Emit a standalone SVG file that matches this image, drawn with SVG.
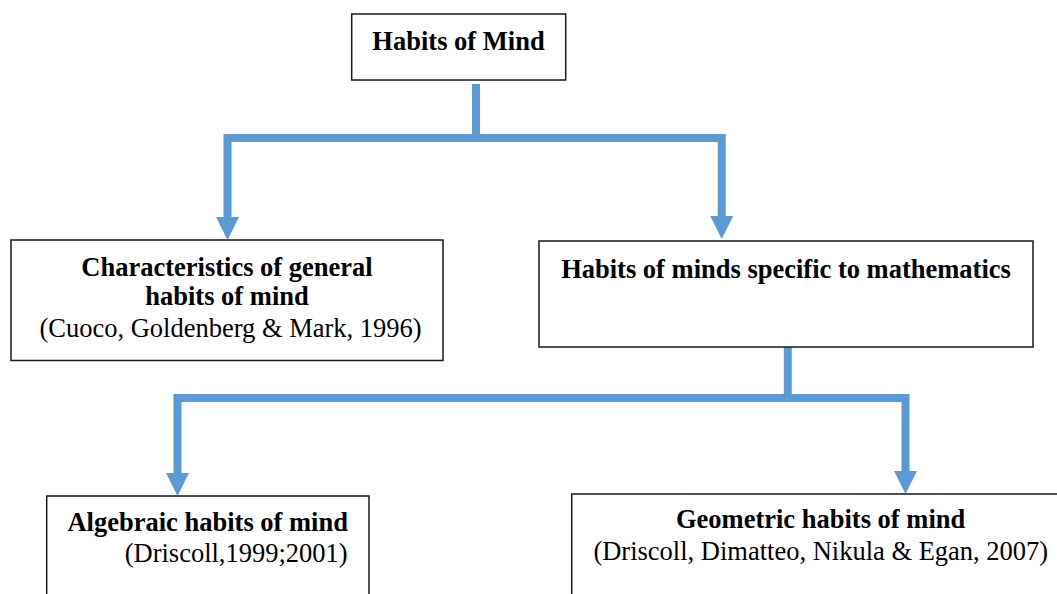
<svg xmlns="http://www.w3.org/2000/svg" width="1057" height="594" viewBox="0 0 1057 594">
  <style>
    .box { fill: #ffffff; stroke: #1a1a1a; stroke-width: 1.5; }
    .t { font-family: 'Liberation Serif', Tinos, 'Times New Roman', Times, 'DejaVu Serif', 'Noto Serif', serif; font-size: 26.5px; fill: #000000; text-anchor: middle; }
    .b { font-weight: bold; }
    .conn { fill: none; stroke: #5B9BD5; stroke-width: 8; stroke-linejoin: miter; stroke-linecap: butt; }
  </style>
  <defs>
    <marker id="arrow" markerUnits="userSpaceOnUse" viewBox="0 0 24 24" markerWidth="24" markerHeight="24" refX="0.5" refY="12" orient="auto">
      <path d="M0,0.3 L23.5,12 L0,23.7 Z" fill="#5B9BD5"/>
    </marker>
  </defs>
  <rect width="1057" height="594" fill="#ffffff"/>

  <g id="connectors">
    <path class="conn" d="M476,84 V138"/>
    <path class="conn" d="M476,138 H227.5 V217" marker-end="url(#arrow)"/>
    <path class="conn" d="M476,138 H721.7 V216" marker-end="url(#arrow)"/>
    <path class="conn" d="M787.8,347 V398"/>
    <path class="conn" d="M787.8,398 H177.5 V473" marker-end="url(#arrow)"/>
    <path class="conn" d="M787.8,398 H905.5 V471" marker-end="url(#arrow)"/>
  </g>

  <g id="node-habits-of-mind">
    <rect class="box" x="351.7" y="14" width="214" height="66"/>
    <text class="t b" x="458.5" y="50" font-family="Liberation Serif, serif">Habits of Mind</text>
  </g>

  <g id="node-general">
    <rect class="box" x="11" y="240" width="432" height="120.5"/>
    <text class="t b" x="227" y="276">Characteristics of general</text>
    <text class="t b" x="227" y="305">habits of mind</text>
    <text class="t" x="230.5" y="336.5">(Cuoco, Goldenberg &amp; Mark, 1996)</text>
  </g>

  <g id="node-math">
    <rect class="box" x="539" y="241" width="494" height="106"/>
    <text class="t b" x="786" y="278">Habits of minds specific to mathematics</text>
  </g>

  <g id="node-algebraic">
    <rect class="box" x="46.7" y="496" width="322.3" height="110"/>
    <text class="t b" x="207.7" y="530.7">Algebraic habits of mind</text>
    <text class="t" x="347.7" y="561.7" style="text-anchor:end">(Driscoll,1999;2001)</text>
  </g>

  <g id="node-geometric">
    <rect class="box" x="571.7" y="494" width="498" height="112"/>
    <text class="t b" x="820.6" y="528.3">Geometric habits of mind</text>
    <text class="t" x="820.8" y="560">(Driscoll, Dimatteo, Nikula &amp; Egan, 2007)</text>
  </g>
</svg>
